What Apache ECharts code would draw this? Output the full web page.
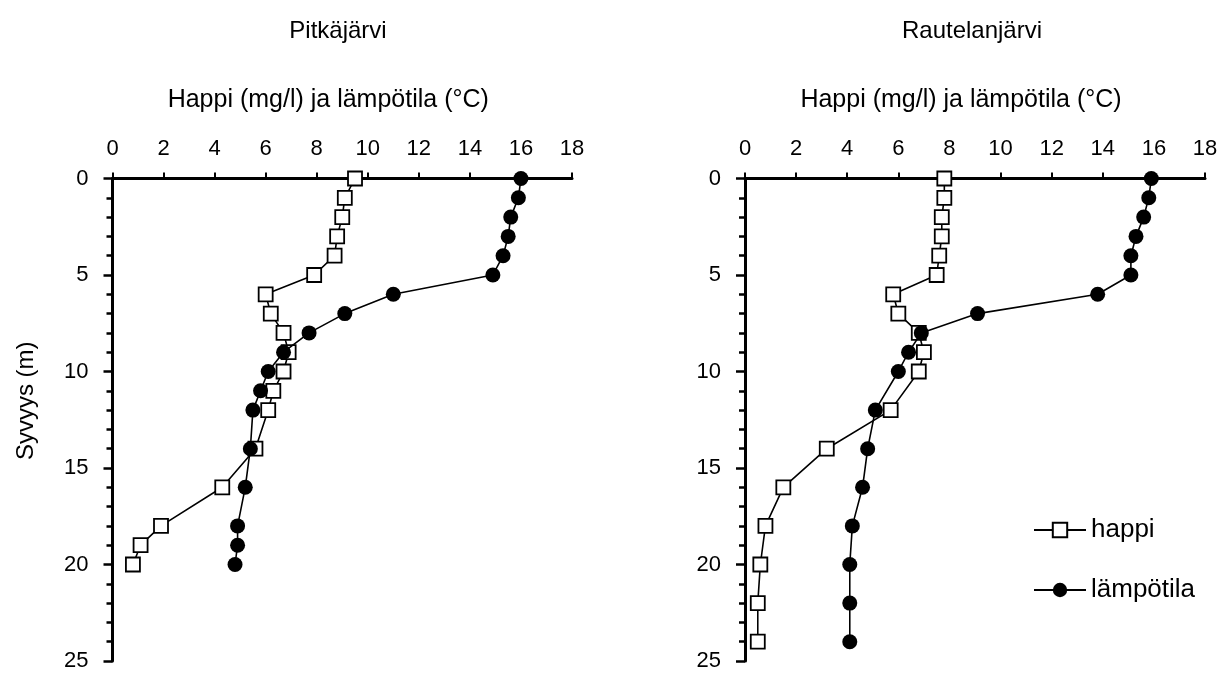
<!DOCTYPE html>
<html>
<head>
<meta charset="utf-8">
<script src="https://cdn.jsdelivr.net/npm/echarts@6/dist/echarts.min.js"></script>
<style>
html,body{margin:0;padding:0;background:#fff;}
#c{width:1228px;height:673px;}
</style>
</head>
<body>
<div id="c"></div>
<script>
// Titles and labels
const titles = ['Pitkäjärvi', 'Rautelanjärvi'];
const xName = 'Happi (mg/l) ja lämpötila (°C)';
const yName = 'Syvyys (m)';
const seriesNames = ['happi', 'lämpötila'];

// Pitkäjärvi
const pitkaHappiDepth = [0,1,2,3,4,5,6,7,8,9,10,11,12,14,16,18,19,20];
const pitkaHappi = [9.5,9.1,9.0,8.8,8.7,7.9,6.0,6.2,6.7,6.9,6.7,6.3,6.1,5.6,4.3,1.9,1.1,0.8];
const pitkaTempDepth = [0,1,2,3,4,5,6,7,8,9,10,11,12,14,16,18,19,20];
const pitkaTemp = [16.0,15.9,15.6,15.5,15.3,14.9,11.0,9.1,7.7,6.7,6.1,5.8,5.5,5.4,5.2,4.9,4.9,4.8];

// Rautelanjärvi
const rautHappiDepth = [0,1,2,3,4,5,6,7,8,9,10,12,14,16,18,20,22,24];
const rautHappi = [7.8,7.8,7.7,7.7,7.6,7.5,5.8,6.0,6.8,7.0,6.8,5.7,3.2,1.5,0.8,0.6,0.5,0.5];
const rautTempDepth = [0,1,2,3,4,5,6,7,8,9,10,12,14,16,18,20,22,24];
const rautTemp = [15.9,15.8,15.6,15.3,15.1,15.1,13.8,9.1,6.9,6.4,6.0,5.1,4.8,4.6,4.2,4.1,4.1,4.1];

const FONT = "'Liberation Sans', Arial, sans-serif";

function pairs(vals, depths){ return vals.map((v,i)=>[v, depths[i]]); }

const grids = [
  {left:112.5, top:178.5, width:459.5, height:482.5},
  {left:745, top:178.5, width:460, height:482.5}
];

function xAxis(i){
  return {
    gridIndex:i, type:'value', position:'top', min:0, max:18, interval:2,
    name:xName, nameLocation:'middle', nameGap:66,
    nameTextStyle:{fontFamily:FONT, fontSize:25, color:'#000', padding:[0,28,0,0]},
    axisLine:{show:true, onZero:false, lineStyle:{color:'#000', width:3}},
    axisTick:{show:true, inside:false, length:6, lineStyle:{color:'#000', width:2}},
    axisLabel:{fontFamily:FONT, fontSize:22, color:'#000', margin:19},
    splitLine:{show:false}
  };
}
function yAxis(i){
  return {
    gridIndex:i, type:'value', inverse:true, min:0, max:25, interval:5,
    name: i===0 ? yName : '', nameLocation:'middle', nameGap:74, nameRotate:90,
    nameTextStyle:{fontFamily:FONT, fontSize:24, color:'#000', padding:[0,0,0,38]},
    axisLine:{show:true, onZero:false, lineStyle:{color:'#000', width:3}},
    axisTick:{show:true, inside:false, length:9, lineStyle:{color:'#000', width:2.5}},
    minorTick:{show:true, splitNumber:5, length:6, lineStyle:{color:'#000', width:2.5}},
    axisLabel:{fontFamily:FONT, fontSize:22, color:'#000', margin:24},
    splitLine:{show:false}
  };
}
function happiSeries(i, data){
  return {
    name:seriesNames[0], type:'line', xAxisIndex:i, yAxisIndex:i, data:data,
    symbol:'rect', symbolSize:14, showAllSymbol:true,
    lineStyle:{color:'#000', width:1.6},
    itemStyle:{color:'#fff', borderColor:'#000', borderWidth:1.8},
    z:2, animation:false
  };
}
function tempSeries(i, data){
  return {
    name:seriesNames[1], type:'line', xAxisIndex:i, yAxisIndex:i, data:data,
    symbol:'circle', symbolSize:15, showAllSymbol:true,
    lineStyle:{color:'#000', width:1.6},
    itemStyle:{color:'#000', borderColor:'#000', borderWidth:0},
    z:3, animation:false
  };
}

const chart = echarts.init(document.getElementById('c'), null, {renderer:'canvas'});
chart.setOption({
  animation:false,
  backgroundColor:'#fff',
  title:[
    {text:titles[0], left:333, top:14, textAlign:'center', textStyle:{fontFamily:FONT, fontSize:24, fontWeight:'normal', color:'#000'}},
    {text:titles[1], left:967, top:14, textAlign:'center', textStyle:{fontFamily:FONT, fontSize:24, fontWeight:'normal', color:'#000'}}
  ],
  legend:{
    orient:'vertical', left:1028, top:512, itemGap:34, itemWidth:52, itemHeight:18,
    data:seriesNames,
    textStyle:{fontFamily:FONT, fontSize:26, color:'#000'}
  },
  grid:grids,
  xAxis:[xAxis(0), xAxis(1)],
  yAxis:[yAxis(0), yAxis(1)],
  series:[
    happiSeries(0, pairs(pitkaHappi, pitkaHappiDepth)),
    tempSeries(0, pairs(pitkaTemp, pitkaTempDepth)),
    happiSeries(1, pairs(rautHappi, rautHappiDepth)),
    tempSeries(1, pairs(rautTemp, rautTempDepth))
  ]
});
</script>
</body>
</html>
